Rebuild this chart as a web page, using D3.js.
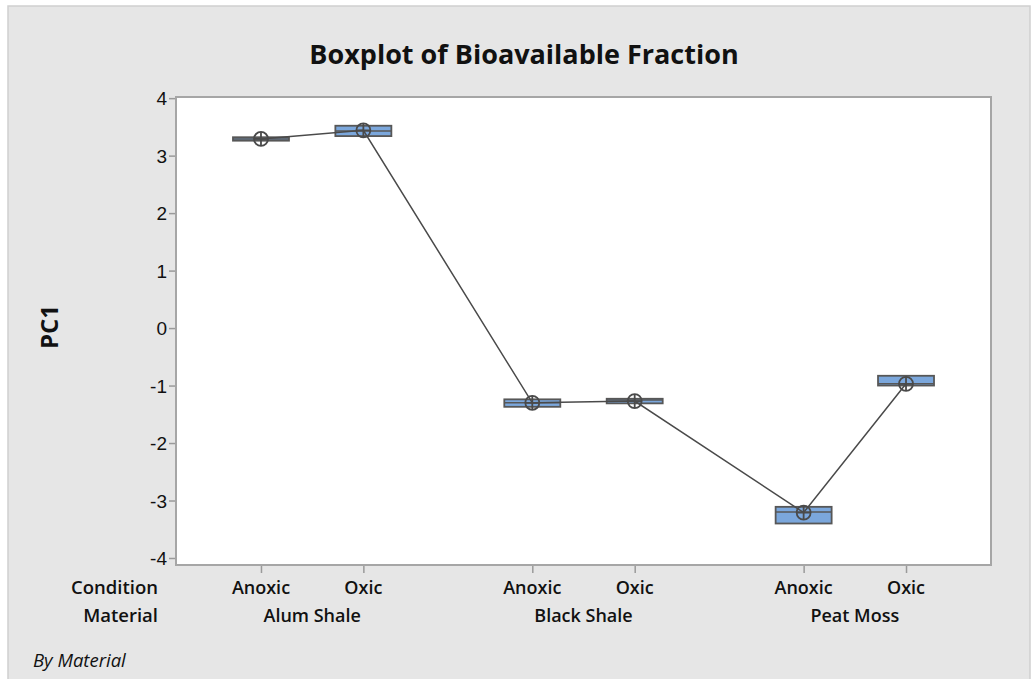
<!DOCTYPE html>
<html>
<head>
<meta charset="utf-8">
<script src="https://cdn.jsdelivr.net/npm/d3@7"></script>
<style>
  html, body { margin: 0; padding: 0; background: #ffffff; }
  svg { display: block; font-family: "Open Sans", "Noto Sans", sans-serif; }
</style>
</head>
<body>
<svg id="chart" width="1033" height="679"></svg>
<script>
// Groups and conditions along the x axis
const materials = ["Alum Shale", "Black Shale", "Peat Moss"];
const conditions = ["Anoxic", "Oxic"];

// Box statistics per cell (material × condition), in plotting order
const boxMaterial = ["Alum Shale", "Alum Shale", "Black Shale", "Black Shale", "Peat Moss", "Peat Moss"];
const boxCondition = ["Anoxic", "Oxic", "Anoxic", "Oxic", "Anoxic", "Oxic"];
const q1Values     = [3.26, 3.34, -1.37, -1.31, -3.40, -1.00];
const medianValues = [3.29, 3.43, -1.30, -1.25, -3.20, -0.97];
const q3Values     = [3.32, 3.52, -1.24, -1.23, -3.11, -0.83];
const meanValues   = [3.29, 3.44, -1.30, -1.27, -3.21, -0.97];

// Y axis ticks
const yTicks = [-4, -3, -2, -1, 0, 1, 2, 3, 4];

const svg = d3.select("#chart");
const W = 1033, H = 679;

// Outer panel
svg.append("rect").attr("x", 8).attr("y", 6).attr("width", W - 11).attr("height", H)
  .attr("fill", "#e6e6e6").attr("stroke", "#cfcfcf").attr("stroke-width", 1.5);

// Plot area
const plot = { left: 176, top: 97, right: 991, bottom: 565 };

const y = d3.scaleLinear().domain([-4.122, 4.02]).range([plot.bottom, plot.top]);

// Slot position: conditions one unit apart, materials separated by an extra gap
const groupStep = 2.65;
const slot = (m, c) => materials.indexOf(m) * groupStep + conditions.indexOf(c);
const x = d3.scaleLinear().domain([-0.83, 7.13]).range([plot.left, plot.right]);

svg.append("rect")
  .attr("x", plot.left).attr("y", plot.top)
  .attr("width", plot.right - plot.left).attr("height", plot.bottom - plot.top)
  .attr("fill", "#ffffff").attr("stroke", "#a6a6a6").attr("stroke-width", 2);

// Y axis
const yAxis = d3.axisLeft(y).tickValues(yTicks).tickSize(6).tickPadding(2)
  .tickFormat(d => d < 0 ? "-" + Math.abs(d) : String(d));
const gy = svg.append("g").attr("transform", `translate(${plot.left - 1},0)`).call(yAxis);
gy.select(".domain").remove();
gy.selectAll(".tick line").attr("stroke", "#9a9a9a").attr("stroke-width", 1.5);
gy.selectAll(".tick text").attr("font-size", 19).attr("fill", "#111").attr("dy", "0.35em");

// X axis ticks (one per cell)
const cells = boxMaterial.map((m, i) => ({
  material: m, condition: boxCondition[i],
  q1: q1Values[i], median: medianValues[i], q3: q3Values[i], mean: meanValues[i],
  pos: slot(m, boxCondition[i])
}));

const xAxis = d3.axisBottom(x).tickValues(cells.map(d => d.pos)).tickSize(7).tickFormat("");
const gx = svg.append("g").attr("transform", `translate(0,${plot.bottom + 1})`).call(xAxis);
gx.select(".domain").remove();
gx.selectAll(".tick line").attr("stroke", "#9a9a9a").attr("stroke-width", 1.5);

// Condition labels
svg.append("g").selectAll("text").data(cells).join("text")
  .attr("x", d => x(d.pos)).attr("y", 594)
  .attr("text-anchor", "middle").attr("font-size", 18).attr("font-weight", 600)
  .attr("fill", "#111").text(d => d.condition);

// Material labels, centered under each pair
svg.append("g").selectAll("text").data(materials).join("text")
  .attr("x", m => x(slot(m, "Anoxic") + 0.5)).attr("y", 622)
  .attr("text-anchor", "middle").attr("font-size", 18).attr("font-weight", 600)
  .attr("fill", "#111").text(m => m);

// Row headers
svg.append("text").attr("x", 158).attr("y", 594).attr("text-anchor", "end")
  .attr("font-size", 18.5).attr("font-weight", 600).attr("fill", "#111").text("Condition");
svg.append("text").attr("x", 158).attr("y", 622).attr("text-anchor", "end")
  .attr("font-size", 18.5).attr("font-weight", 600).attr("fill", "#111").text("Material");

// Boxes
const boxW = 56;
const boxes = svg.append("g");
boxes.selectAll("rect").data(cells).join("rect")
  .attr("x", d => x(d.pos) - boxW / 2)
  .attr("y", d => y(d.q3))
  .attr("width", boxW)
  .attr("height", d => Math.max(y(d.q1) - y(d.q3), 1))
  .attr("fill", "#7ba7dc").attr("stroke", "#575757").attr("stroke-width", 1.8);
boxes.selectAll("line").data(cells).join("line")
  .attr("x1", d => x(d.pos) - boxW / 2).attr("x2", d => x(d.pos) + boxW / 2)
  .attr("y1", d => y(d.median)).attr("y2", d => y(d.median))
  .attr("stroke", "#575757").attr("stroke-width", 1.5);

// Mean connect line
const line = d3.line().x(d => x(d.pos)).y(d => y(d.mean));
svg.append("path").datum(cells).attr("d", line)
  .attr("fill", "none").attr("stroke", "#4a4a4a").attr("stroke-width", 1.5);

// Mean symbols: circle with cross
const r = 7;
const means = svg.append("g").selectAll("g").data(cells).join("g")
  .attr("transform", d => `translate(${x(d.pos)},${y(d.mean)})`);
means.append("circle").attr("r", r).attr("fill", "none").attr("stroke", "#4a4a4a").attr("stroke-width", 1.8);
means.append("path").attr("d", `M${-r},0H${r}M0,${-r}V${r}`)
  .attr("stroke", "#4a4a4a").attr("stroke-width", 1.8);

// Title
svg.append("text").attr("x", 524).attr("y", 64).attr("text-anchor", "middle")
  .attr("font-size", 27).attr("font-weight", 700).attr("fill", "#111")
  .text("Boxplot of Bioavailable Fraction");

// Y axis title
svg.append("text").attr("transform", "translate(58,327) rotate(-90)")
  .attr("text-anchor", "middle").attr("font-size", 24).attr("font-weight", 700)
  .attr("fill", "#111").text("PC1");

// Footnote
svg.append("text").attr("x", 33).attr("y", 667)
  .attr("font-size", 18.5).attr("font-style", "italic").attr("fill", "#111")
  .text("By Material");
</script>
</body>
</html>
